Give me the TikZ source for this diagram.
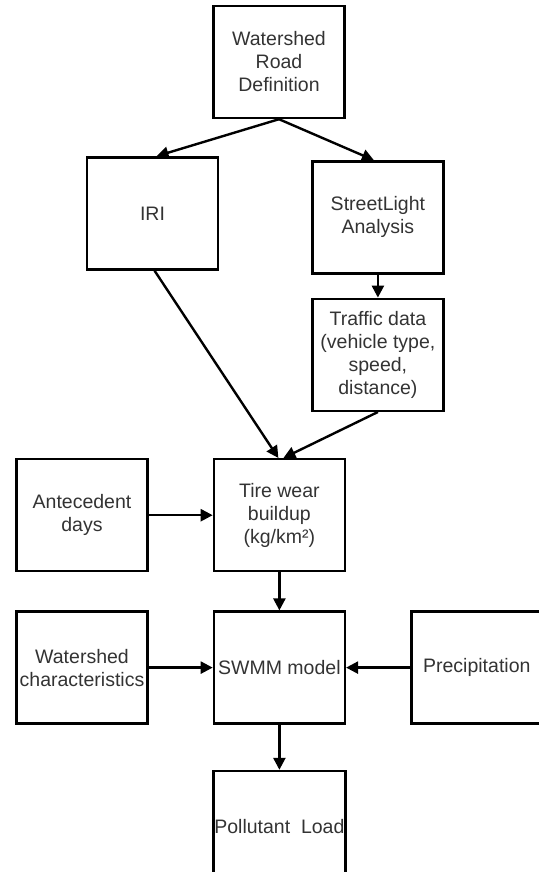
\documentclass[tikz,border=0pt]{standalone}
\usepackage{fontspec}
\setmainfont{Liberation Sans}
\usepackage{tikz}
\usetikzlibrary{positioning, arrows.meta}
\tikzset{block/.style = {draw, rectangle, line width=2.4pt, minimum width=131pt, minimum height=112pt, align=center, text=black!80, font=\fontsize{19.5}{23}\selectfont, inner sep=1pt}}
\tikzset{flow/.style = {->, line width=2.4pt}}

\begin{document}
\begin{tikzpicture}[>={Triangle[length=12pt, width=12pt]}, node distance=64pt]
  \useasboundingbox (0,0) rectangle (538pt,-872pt);

  \node [block] (wrd) at (279pt,-62pt) {Watershed\\Road\\Definition};
  \node [block, below=37pt of wrd, xshift=-126.5pt] (iri) {IRI};
  \node [block, right=92pt of iri, yshift=-4pt] (sla) {StreetLight\\Analysis};
  \node [block, below=23pt of sla] (traffic) {Traffic data\\(vehicle type,\\speed,\\distance)};
  \node [block, below=46pt of traffic, xshift=-98.5pt] (tire) {Tire wear\\buildup\\(kg/km²)};
  \node [block, left=of tire] (ante) {Antecedent\\days};
  \node [block, below=38pt of tire] (swmm) {SWMM model};
  \node [block, left=of swmm] (wchar) {Watershed\\characteristics};
  \node [block, right=of swmm] (precip) {Precipitation};
  \node [block, below=45pt of swmm] (load) {Pollutant~~Load};

  \path[flow] (wrd.south) edge ([xshift=4pt]iri.north);
  \path[flow] (wrd.south) edge ([xshift=-4pt]sla.north);
  \path[flow] (sla) edge (traffic);

  \path[flow] ([xshift=2pt]iri.south) edge ([xshift=-1pt]tire.north);
  \path[flow] (traffic.south) edge ([xshift=4pt]tire.north);
  \path[flow] (ante) edge (tire);

  \path[flow] (tire) edge (swmm);
  \path[flow] (wchar) edge (swmm);
  \path[flow] (precip) edge (swmm);
  \path[flow] (swmm) edge (load);
\end{tikzpicture}
\end{document}
